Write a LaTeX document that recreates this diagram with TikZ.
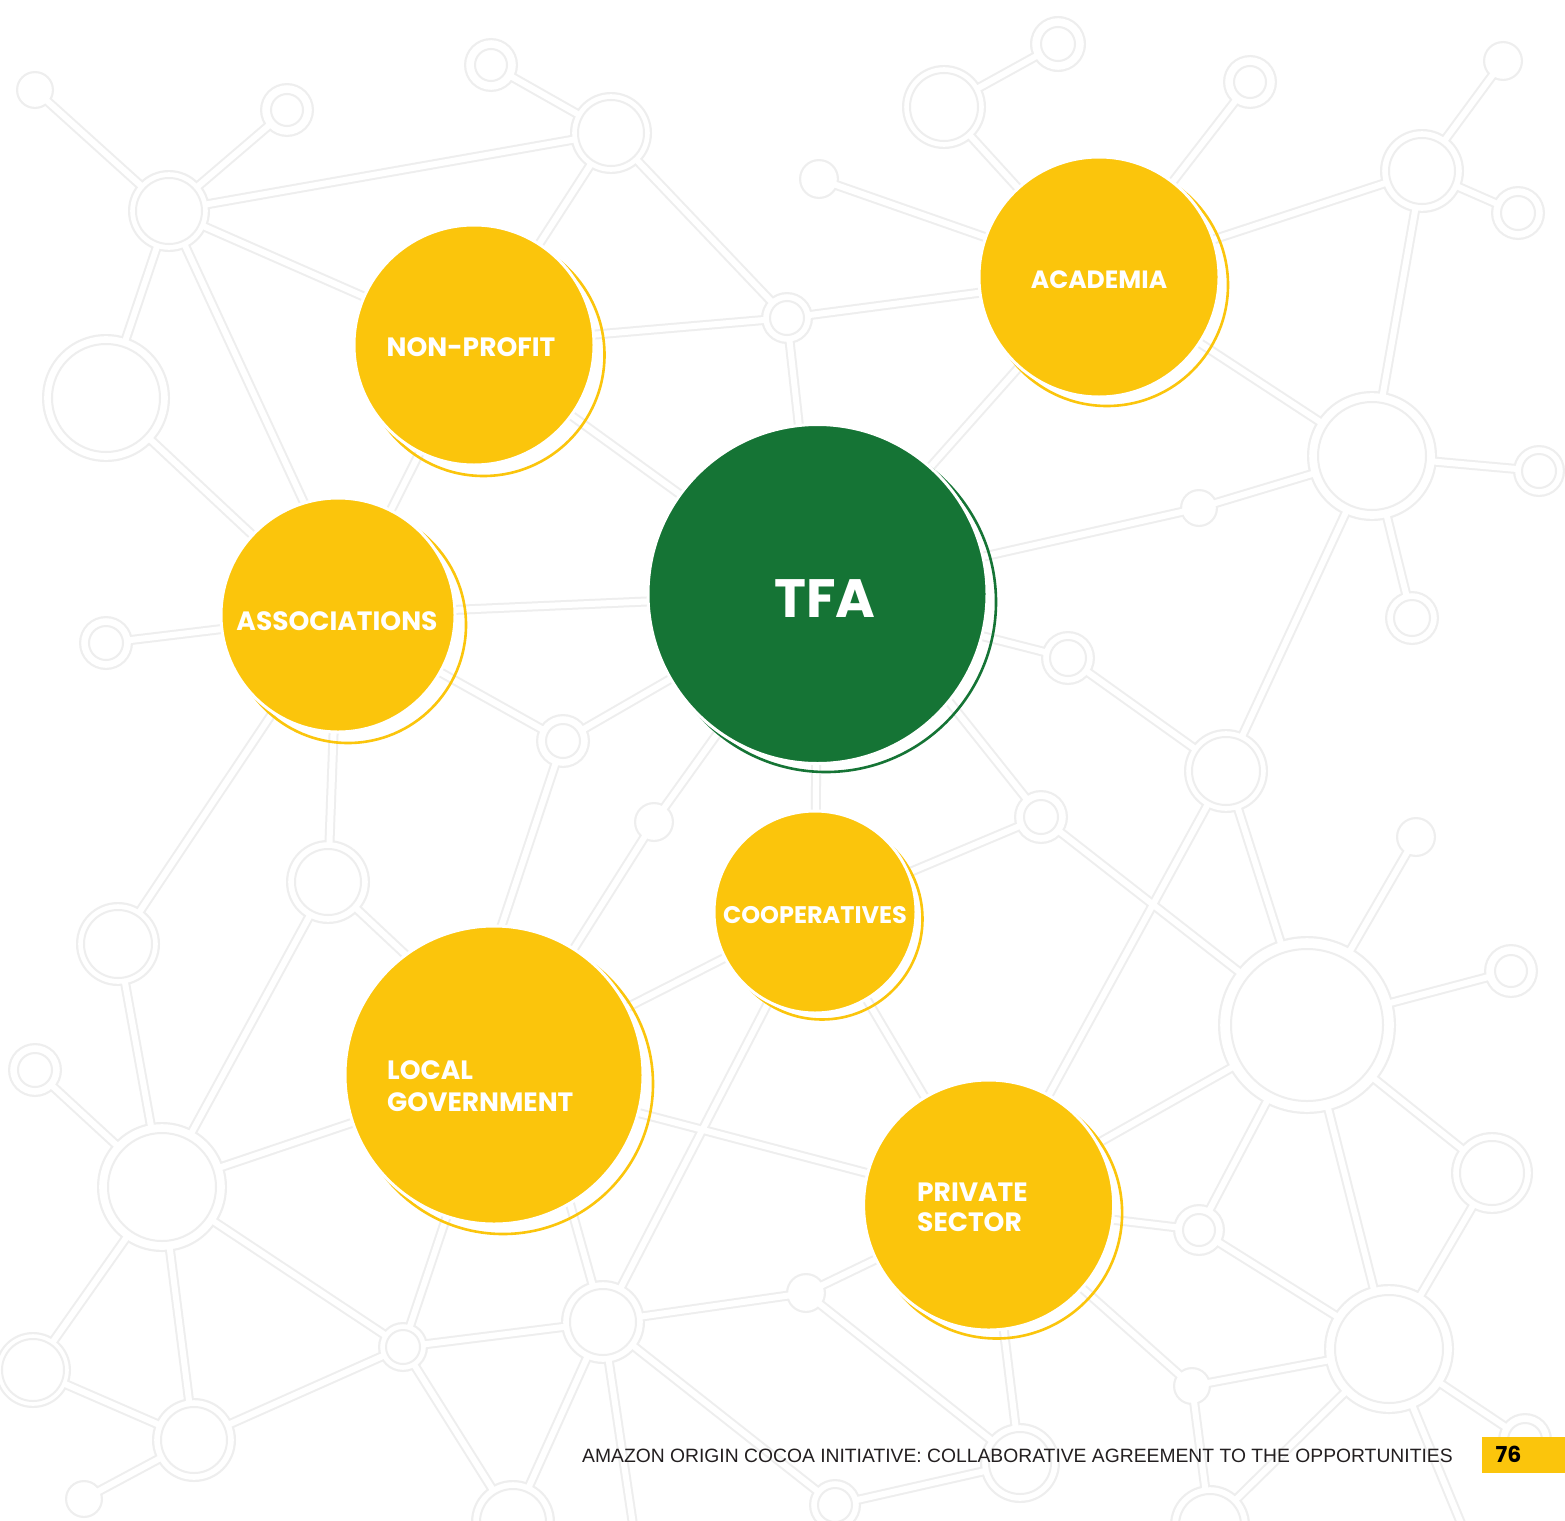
\documentclass[tikz,border=0pt]{standalone}
\usepackage{fontspec}
\newfontfamily\popfont{Poppins}
\newfontfamily\footfont{Liberation Sans}
\definecolor{bgline}{RGB}{238,238,238}
\definecolor{byellow}{RGB}{251,197,12}
\definecolor{tgreen}{RGB}{21,116,53}
\definecolor{foottext}{RGB}{35,31,32}
\def\nodelist{n1/35/90/19/0, n2/287/110/27/16, n3/169/211/41/33, n4/491/65/27/16,
 n5/611/133/41/33, n6/106/398/64/54, n7/787/318/26/17, n8/944/107/42/34,
 n9/1058/44/28/17, n10/1250/82/27/16, n11/1503/61/20/0, n12/1422/171/42/33,
 n13/1518/213/27/17, n14/819/179/20/0, n15/1372/456/65/54, n16/1539/471/26/17,
 n17/1199/508/19/0, n18/1412/618/27/18, n19/1068/658/27/18, n20/563/741/27/17,
 n21/106/643/27/17, n22/1226/771/42/34, n23/1041/817/27/17, n24/654/822/20/0,
 n25/328/882/42/33, n26/118/944/42/34, n27/1416/837/20/0, n28/1307/1025/89/76,
 n29/1511/971/27/16, n30/35/1070/27/17, n31/162/1187/65/54, n32/1492/1173/41/32,
 n33/1199/1230/26/16, n34/806/1293/20/0, n35/603/1322/42/33, n36/403/1347/25/17,
 n37/33/1370/38/31, n38/194/1440/42/33, n39/84/1499/19/0, n40/1389/1349/65/54,
 n41/1192/1386/19/0, n42/1020/1463/40/31, n43/513/1522/42/33, n44/835/1505/26/17,
 n45/1210/1525/40/31, n46/1525/1440/27/17}
\def\linklist{n1/n3, n2/n3, n3/n5, n3/npc, n3/n6, n3/hAS, n6/asc, n4/n5, n5/npc, n5/n7,
 n7/npc, n7/acc, n7/tfc, n14/acc, n8/acc, n8/n9, n10/acc, n12/acc, n11/n12, n12/n13,
 n12/n15, acc/n15, acc/tfc, n15/n16, n15/n17, n17/tfc, n15/n18, n15/n22, n19/n22,
 n19/tfc, n22/psc, n22/n28, n23/n28, n23/hTF, n23/coc, n27/n28, n28/n29, n28/n32,
 n28/n40, n28/psc, n28/n33, n33/psc, n33/n40, n32/n40, n40/n41, n40/n46, n40/offa,
 n40/n45, n41/psc, n41/n45, psc/n42, n34/n42, n44/n42, n34/n35, n34/psc, n35/n36,
 n35/hLB, n35/n43, n35/offb, n35/n44, n35/coc, lgc/psc, lgc/coc, n24/tfc, n24/lgc,
 n20/hLA, n20/tfc, n20/asc, tfc/coc, coc/psc, asc/n21, asc/tfc, asc/n25, asc/n26,
 npc/tfc, npc/asc, n26/n31, n25/n31, n25/hLC, n30/n31, n31/lgc, n31/n37, n31/n38,
 n31/n36, n37/n38, n38/n39, n38/n36, n36/lgc, n36/n43}
\begin{document}
\begin{tikzpicture}[x=1pt,y=-1pt,
  linkouter/.style={draw=bgline,line width=10pt},
  linkinner/.style={draw=white,line width=6pt},
  bubble/.style={circle,inner sep=0pt,draw=white,line width=3pt,fill=byellow},
  tfabubble/.style={circle,inner sep=0pt,draw=white,line width=3pt,fill=tgreen},
  yring/.style={draw=byellow,line width=2.6pt},
  gring/.style={draw=tgreen,line width=2.6pt},
  lab/.style={text=white,inner sep=0pt,anchor=base,font=\popfont\bfseries\fontsize{26.5}{30}\selectfont},
  labw/.style={lab,anchor=base west}]
\useasboundingbox (0,0) rectangle (1565,1520);
\fill[white] (0,0) rectangle (1565,1520);
% centres of the bubbles
\coordinate (npc) at (474,345);
\coordinate (acc) at (1099,277);
\coordinate (asc) at (338,615);
\coordinate (coc) at (815,912);
\coordinate (lgc) at (494,1075);
\coordinate (psc) at (988.6,1205);
\coordinate (tfc) at (817.5,594);
% hidden ends under bubbles and off-page ends
\coordinate (hAS) at (356,615);
\coordinate (hTF) at (868,600);
\coordinate (hLA) at (452,1075);
\coordinate (hLB) at (534,1075);
\coordinate (hLC) at (470,1015);
\coordinate (offa) at (1470,1545);
\coordinate (offb) at (636,1545);
\foreach \n/\x/\y/\R/\ri in \nodelist {\coordinate (\n) at (\x,\y);}
% background network
\foreach \a/\b in \linklist {\draw[linkouter] (\a) -- (\b);}
\foreach \n/\x/\y/\R/\ri in \nodelist {\fill[bgline] (\n) circle[radius=\R pt];}
\foreach \a/\b in \linklist {\draw[linkinner] (\a) -- (\b);}
\foreach \n/\x/\y/\R/\ri in \nodelist {\fill[white] (\n) circle[radius=\R pt-2.2pt];}
\foreach \n/\x/\y/\R/\ri in \nodelist {\ifnum\ri>0 \draw[bgline,line width=2pt] (\n) circle[radius=\ri pt];\fi}
% bubbles
\draw[yring] ([shift={(9.5,10)}]npc) circle[radius=121pt];
\node[bubble,minimum size=240pt] (nonprofit) at (npc) {};
\node[lab] (nonprofit-t) at (471,356) {NON-PROFIT};

\draw[yring] ([shift={(8,8)}]acc) circle[radius=121pt];
\node[bubble,minimum size=240pt] (academia) at (acc) {};
\node[lab,font=\popfont\bfseries\fontsize{25}{30}\selectfont] (academia-t) at (1099,288.3) {ACADEMIA};

\draw[yring] ([shift={(10,10)}]asc) circle[radius=118pt];
\node[bubble,minimum size=234pt] (assoc) at (asc) {};
\node[lab] (assoc-t) at (337,630.7) {ASSOCIATIONS};

\draw[yring] ([shift={(7,7)}]coc) circle[radius=100.5pt];
\node[bubble,minimum size=202pt] (coop) at (coc) {};
\node[lab,font=\popfont\bfseries\fontsize{24}{28}\selectfont] (coop-t) at (815,923.3) {COOPERATIVES};

\draw[yring] ([shift={(9,9)}]lgc) circle[radius=150pt];
\node[bubble,minimum size=298pt] (localgov) at (lgc) {};
\node[labw] (localgov-t1) at (387,1079) {LOCAL};
\node[labw] (localgov-t2) at (387,1111) {GOVERNMENT};

\draw[yring] ([shift={(8,8)}]psc) circle[radius=125.5pt];
\node[bubble,minimum size=250pt] (private) at (psc) {};
\node[labw] (private-t1) at (917,1201) {PRIVATE};
\node[labw] (private-t2) at (917,1231) {SECTOR};

\draw[gring] ([shift={(8.5,8)}]tfc) circle[radius=170pt];
\node[tfabubble,minimum size=339pt] (tfa) at (tfc) {};
\node[lab,font=\popfont\bfseries\fontsize{54}{60}\selectfont] (tfa-t) at (824.7,617.3) {TFA};
% footer
\node[anchor=base west,inner sep=0pt,text=foottext,font=\footfont\fontsize{19.3}{22}\selectfont] (footer) at (582,1462) {AMAZON ORIGIN COCOA INITIATIVE: COLLABORATIVE AGREEMENT TO THE OPPORTUNITIES};
\node[fill=byellow,anchor=north west,inner sep=0pt,minimum width=83pt,minimum height=35.5pt] (pagebox) at (1482,1437) {};
\node[anchor=base,inner sep=0pt,text=black,font=\popfont\bfseries\fontsize{22}{24}\selectfont] (pagenum) at (1508.5,1462.5) {76};
\end{tikzpicture}
\end{document}
